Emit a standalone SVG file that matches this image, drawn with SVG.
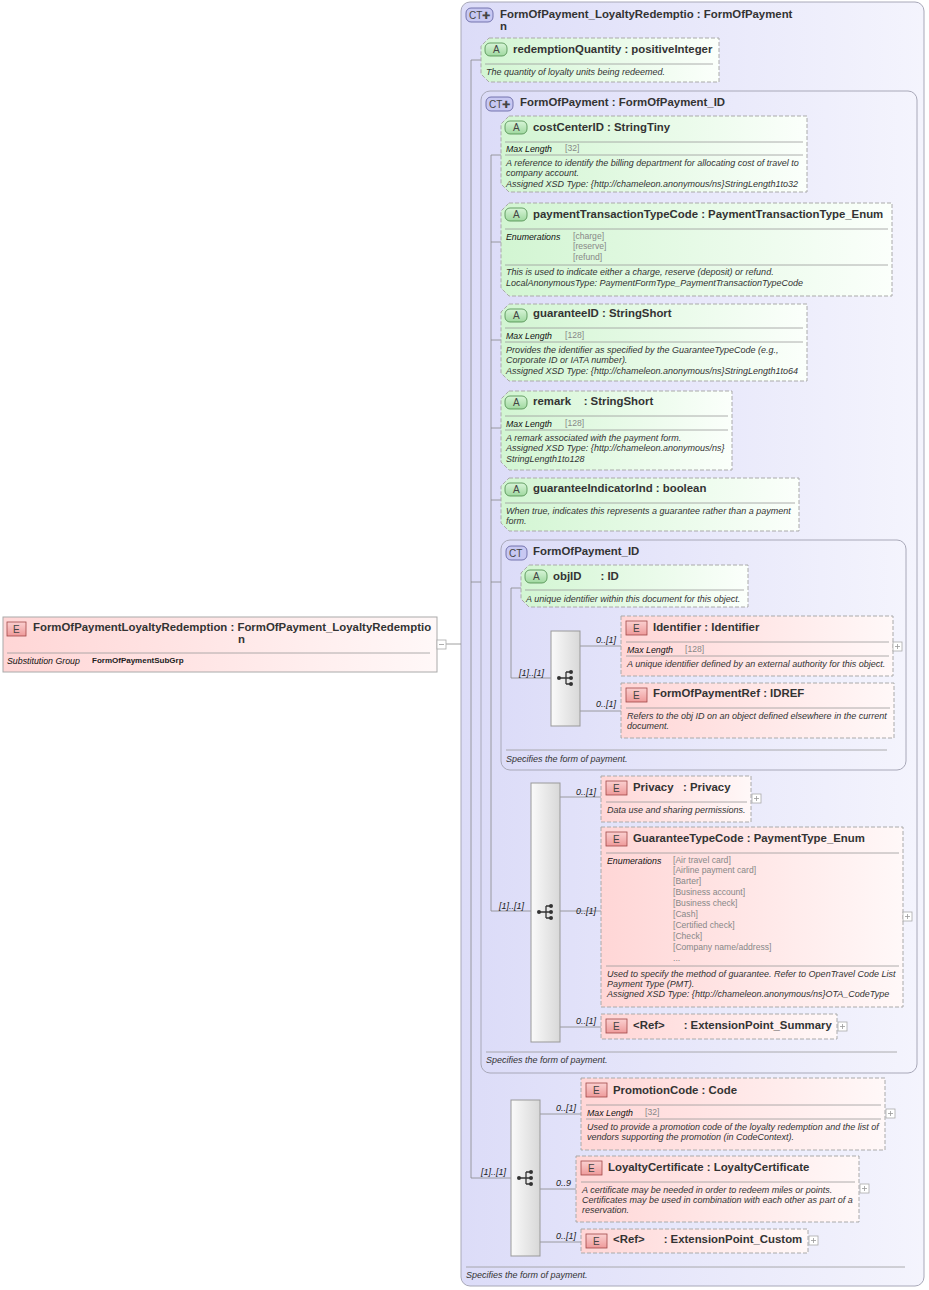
<svg xmlns="http://www.w3.org/2000/svg" width="929" height="1290" viewBox="0 0 929 1290">
<defs>
<linearGradient id="gA" x1="0" y1="0" x2="1" y2="0"><stop offset="0" stop-color="#d2f5d2"/><stop offset="1" stop-color="#fbfffb"/></linearGradient>
<linearGradient id="gE" x1="0" y1="0" x2="1" y2="0"><stop offset="0" stop-color="#ffd6d6"/><stop offset="1" stop-color="#fff8f8"/></linearGradient>
<linearGradient id="gS" x1="0" y1="0" x2="1" y2="0"><stop offset="0" stop-color="#fafafa"/><stop offset="1" stop-color="#d8d8d8"/></linearGradient>
<linearGradient id="gB" x1="0" y1="0" x2="0" y2="1"><stop offset="0" stop-color="#fbd0d0"/><stop offset="1" stop-color="#ee9a9a"/></linearGradient>
<linearGradient id="gBA" x1="0" y1="0" x2="0" y2="1"><stop offset="0" stop-color="#d8f5d8"/><stop offset="1" stop-color="#9fd89f"/></linearGradient>
<linearGradient id="gCT" x1="0" y1="0" x2="1" y2="0"><stop offset="0" stop-color="#dcdcf8"/><stop offset="1" stop-color="#f4f4fd"/></linearGradient>
<g id="seqIcon"><circle cx="-7" cy="0" r="2" fill="#333"/><path d="M-7,0H0M0,-6V6M0,-6H5M0,0H5M0,6H5" stroke="#333" stroke-width="1.3" fill="none"/><circle cx="5" cy="-6" r="2" fill="#333"/><circle cx="5" cy="0" r="2" fill="#333"/><circle cx="5" cy="6" r="2" fill="#333"/></g>
<g id="plus"><rect x="0" y="0" width="9" height="9" fill="#fff" stroke="#aaa" stroke-width="0.8"/><path d="M2,4.5H7M4.5,2V7" stroke="#999" stroke-width="0.8"/></g>
</defs>
<style>
text{font-family:"Liberation Sans",Arial,sans-serif;fill:#222;white-space:pre}
.t{font-size:11.4px;font-weight:bold;fill:#333}
.d{font-size:9px;font-style:italic;fill:#333}
.k{font-size:8.8px;font-style:italic;fill:#111}
.v{font-size:8.6px;fill:#888}
.m{font-size:9px;font-style:italic;fill:#222}
.ct{fill:url(#gCT);stroke:#a8a8b8;stroke-width:1}
.at{fill:url(#gA);stroke:#aaa;stroke-width:1;stroke-dasharray:4,2}
.el{fill:url(#gE);stroke:#aaa;stroke-width:1;stroke-dasharray:4,2}
.elS{fill:url(#gE);stroke:#aaa;stroke-width:1}
.sep{stroke:#999;stroke-width:0.8}
.seq{fill:url(#gS);stroke:#999;stroke-width:1}
.bE{fill:url(#gB);stroke:#a04848;stroke-width:0.8}
.bA{fill:url(#gBA);stroke:#4a8a4a;stroke-width:0.8}
.bC{fill:#c8c8f2;stroke:#5c5c9c;stroke-width:0.8}
.bt{font-size:10px;fill:#444}
.c{stroke:#888;stroke-width:0.8;fill:none}
</style>

<g id="outerCT">
<rect class="ct" x="461" y="2" width="463" height="1284" rx="9"/>
<rect class="bC" x="466" y="8" width="27" height="14" rx="5"/><text class="bt" x="469" y="19">CT✚</text>
<text class="t" x="500" y="18">FormOfPayment_LoyaltyRedemptio : FormOfPayment</text>
<text class="t" x="500" y="30">n</text>
<line class="sep" x1="466" y1="1267" x2="905" y2="1267"/>
<text class="d" x="466" y="1278">Specifies the form of payment.</text>
</g>

<g id="innerCT">
<rect class="ct" x="481" y="91" width="436" height="982" rx="9"/>
<rect class="bC" x="486" y="97" width="27" height="14" rx="5"/><text class="bt" x="489" y="108">CT✚</text>
<text class="t" x="520" y="106">FormOfPayment : FormOfPayment_ID</text>
<line class="sep" x1="486" y1="1052" x2="897" y2="1052"/>
<text class="d" x="486" y="1063">Specifies the form of payment.</text>
</g>

<g id="idCT">
<rect class="ct" x="501" y="540" width="405" height="230" rx="9"/>
<rect class="bC" x="506" y="546" width="21" height="14" rx="5"/><text class="bt" x="509" y="557">CT</text>
<text class="t" x="533" y="555">FormOfPayment_ID</text>
<line class="sep" x1="506" y1="750" x2="887" y2="750"/>
<text class="d" x="506" y="762">Specifies the form of payment.</text>
</g>

<g id="connectors">
<path class="c" d="M446,644H461M471,60V1178H511M471,60H481M471,582H481M491,155V911H531M491,155H501M491,242H501M491,340H501M491,428H501M491,500H501M491,582H501M511,588V678H551M511,588H521"/>
<path class="c" d="M580,646H621M580,711H621M560,797H601M560,911H601M560,1027H601M540,1114H581M540,1189H576M540,1242H581"/>
<text class="m" x="519" y="676">[1]..[1]</text>
<text class="m" x="499" y="909">[1]..[1]</text>
<text class="m" x="481" y="1175">[1]..[1]</text>
<text class="m" x="596" y="643">0..[1]</text>
<text class="m" x="596" y="707">0..[1]</text>
<text class="m" x="576" y="795">0..[1]</text>
<text class="m" x="576" y="914">0..[1]</text>
<text class="m" x="576" y="1024">0..[1]</text>
<text class="m" x="556" y="1111">0..[1]</text>
<text class="m" x="556" y="1186">0..9</text>
<text class="m" x="556" y="1239">0..[1]</text>
</g>

<g id="root">
<rect class="elS" x="3" y="617" width="434" height="55"/>
<rect class="bE" x="7" y="622" width="19" height="14"/><text class="bt" x="13" y="633">E</text>
<text class="t" x="33" y="631">FormOfPaymentLoyaltyRedemption : FormOfPayment_LoyaltyRedemptio</text>
<text class="t" x="238" y="643">n</text>
<line class="sep" x1="7" y1="653" x2="430" y2="653"/>
<text class="k" x="7" y="664">Substitution Group</text>
<text x="92" y="663" style="font-size:8px;font-weight:bold">FormOfPaymentSubGrp</text>
<rect x="437" y="640" width="9" height="9" fill="#fff" stroke="#aaa" stroke-width="0.8"/><path d="M439,644.5H444" stroke="#999" stroke-width="0.8"/>
</g>

<g id="redemptionQuantity">
<path class="at" d="M489,38H719V82H489L481,74V46Z"/>
<rect class="bA" x="485" y="43" width="22" height="13" rx="5"/><text class="bt" x="493" y="53">A</text>
<text class="t" x="513" y="53">redemptionQuantity : positiveInteger</text>
<line class="sep" x1="485" y1="64" x2="713" y2="64"/>
<text class="d" x="486" y="75">The quantity of loyalty units being redeemed.</text>
</g>

<g id="costCenterID">
<path class="at" d="M509,116H807V192H509L501,184V124Z"/>
<rect class="bA" x="505" y="121" width="22" height="13" rx="5"/><text class="bt" x="513" y="131">A</text>
<text class="t" x="533" y="131">costCenterID : StringTiny</text>
<line class="sep" x1="505" y1="142" x2="803" y2="142"/>
<text class="k" x="506" y="152">Max Length</text><text class="v" x="565" y="151">[32]</text>
<line class="sep" x1="505" y1="155" x2="803" y2="155"/>
<text class="d" x="506" y="166">A reference to identify the billing department for allocating cost of travel to</text>
<text class="d" x="506" y="176">company account.</text>
<text class="d" x="506" y="187">Assigned XSD Type: {http://chameleon.anonymous/ns}StringLength1to32</text>
</g>

<g id="paymentTransactionTypeCode">
<path class="at" d="M509,203H892V296H509L501,288V211Z"/>
<rect class="bA" x="505" y="208" width="22" height="13" rx="5"/><text class="bt" x="513" y="218">A</text>
<text class="t" x="533" y="218">paymentTransactionTypeCode : PaymentTransactionType_Enum</text>
<line class="sep" x1="505" y1="229" x2="888" y2="229"/>
<text class="k" x="506" y="240">Enumerations</text>
<text class="v" x="573" y="239">[charge]</text><text class="v" x="573" y="249">[reserve]</text><text class="v" x="573" y="260">[refund]</text>
<line class="sep" x1="505" y1="265" x2="888" y2="265"/>
<text class="d" x="506" y="275">This is used to indicate either a charge, reserve (deposit) or refund.</text>
<text class="d" x="506" y="286">LocalAnonymousType: PaymentFormType_PaymentTransactionTypeCode</text>
</g>

<g id="guaranteeID">
<path class="at" d="M509,304H807V381H509L501,373V312Z"/>
<rect class="bA" x="505" y="309" width="22" height="13" rx="5"/><text class="bt" x="513" y="319">A</text>
<text class="t" x="533" y="317">guaranteeID : StringShort</text>
<line class="sep" x1="505" y1="328" x2="803" y2="328"/>
<text class="k" x="506" y="339">Max Length</text><text class="v" x="565" y="338">[128]</text>
<line class="sep" x1="505" y1="342" x2="803" y2="342"/>
<text class="d" x="506" y="353">Provides the identifier as specified by the GuaranteeTypeCode (e.g.,</text>
<text class="d" x="506" y="363">Corporate ID or IATA number).</text>
<text class="d" x="506" y="374">Assigned XSD Type: {http://chameleon.anonymous/ns}StringLength1to64</text>
</g>

<g id="remark">
<path class="at" d="M509,391H732V470H509L501,462V399Z"/>
<rect class="bA" x="505" y="396" width="22" height="13" rx="5"/><text class="bt" x="513" y="406">A</text>
<text class="t" x="533" y="405">remark    : StringShort</text>
<line class="sep" x1="505" y1="416" x2="728" y2="416"/>
<text class="k" x="506" y="427">Max Length</text><text class="v" x="565" y="426">[128]</text>
<line class="sep" x1="505" y1="430" x2="728" y2="430"/>
<text class="d" x="506" y="441">A remark associated with the payment form.</text>
<text class="d" x="506" y="451">Assigned XSD Type: {http://chameleon.anonymous/ns}</text>
<text class="d" x="506" y="462">StringLength1to128</text>
</g>

<g id="guaranteeIndicatorInd">
<path class="at" d="M509,478H799V531H509L501,523V486Z"/>
<rect class="bA" x="505" y="483" width="22" height="13" rx="5"/><text class="bt" x="513" y="493">A</text>
<text class="t" x="533" y="492">guaranteeIndicatorInd : boolean</text>
<line class="sep" x1="505" y1="503" x2="795" y2="503"/>
<text class="d" x="506" y="514">When true, indicates this represents a guarantee rather than a payment</text>
<text class="d" x="506" y="524">form.</text>
</g>

<g id="objID">
<path class="at" d="M529,565H748V607H529L521,599V573Z"/>
<rect class="bA" x="525" y="570" width="22" height="13" rx="5"/><text class="bt" x="533" y="580">A</text>
<text class="t" x="553" y="580">objID      : ID</text>
<line class="sep" x1="525" y1="590" x2="744" y2="590"/>
<text class="d" x="526" y="602">A unique identifier within this document for this object.</text>
</g>

<g id="seqID">
<rect class="seq" x="551" y="631" width="29" height="95"/>
<use href="#seqIcon" x="566" y="678"/>
</g>

<g id="Identifier">
<rect class="el" x="621" y="616" width="272" height="60"/>
<rect class="bE" x="626" y="621" width="21" height="14"/><text class="bt" x="633" y="632">E</text>
<text class="t" x="653" y="631">Identifier : Identifier</text>
<line class="sep" x1="626" y1="642" x2="889" y2="642"/>
<text class="k" x="627" y="653">Max Length</text><text class="v" x="685" y="652">[128]</text>
<line class="sep" x1="626" y1="656" x2="889" y2="656"/>
<text class="d" x="627" y="667">A unique identifier defined by an external authority for this object.</text>
<use href="#plus" x="893" y="642"/>
</g>

<g id="FormOfPaymentRef">
<rect class="el" x="621" y="683" width="273" height="55"/>
<rect class="bE" x="626" y="688" width="21" height="14"/><text class="bt" x="633" y="699">E</text>
<text class="t" x="653" y="697">FormOfPaymentRef : IDREF</text>
<line class="sep" x1="626" y1="708" x2="890" y2="708"/>
<text class="d" x="627" y="719">Refers to the obj ID on an object defined elsewhere in the current</text>
<text class="d" x="627" y="729">document.</text>
</g>

<g id="seqFOP">
<rect class="seq" x="531" y="783" width="29" height="259"/>
<use href="#seqIcon" x="546" y="912"/>
</g>

<g id="Privacy">
<rect class="el" x="601" y="776" width="150" height="46"/>
<rect class="bE" x="606" y="781" width="21" height="14"/><text class="bt" x="613" y="792">E</text>
<text class="t" x="633" y="791">Privacy   : Privacy</text>
<line class="sep" x1="606" y1="802" x2="747" y2="802"/>
<text class="d" x="607" y="813">Data use and sharing permissions.</text>
<use href="#plus" x="752" y="794"/>
</g>

<g id="GuaranteeTypeCode">
<rect class="el" x="601" y="827" width="302" height="180"/>
<rect class="bE" x="606" y="832" width="21" height="14"/><text class="bt" x="613" y="843">E</text>
<text class="t" x="633" y="842">GuaranteeTypeCode : PaymentType_Enum</text>
<line class="sep" x1="606" y1="853" x2="899" y2="853"/>
<text class="k" x="607" y="864">Enumerations</text>
<text class="v" x="673" y="863">[Air travel card]</text>
<text class="v" x="673" y="873">[Airline payment card]</text>
<text class="v" x="673" y="884">[Barter]</text>
<text class="v" x="673" y="895">[Business account]</text>
<text class="v" x="673" y="906">[Business check]</text>
<text class="v" x="673" y="917">[Cash]</text>
<text class="v" x="673" y="928">[Certified check]</text>
<text class="v" x="673" y="939">[Check]</text>
<text class="v" x="673" y="950">[Company name/address]</text>
<text class="v" x="673" y="961">...</text>
<line class="sep" x1="606" y1="966" x2="899" y2="966"/>
<text class="d" x="607" y="977">Used to specify the method of guarantee. Refer to OpenTravel Code List</text>
<text class="d" x="607" y="987">Payment Type (PMT).</text>
<text class="d" x="607" y="997">Assigned XSD Type: {http://chameleon.anonymous/ns}OTA_CodeType</text>
<use href="#plus" x="903" y="912"/>
</g>

<g id="ExtensionPoint_Summary">
<rect class="el" x="601" y="1014" width="236" height="25"/>
<rect class="bE" x="606" y="1019" width="21" height="14"/><text class="bt" x="613" y="1030">E</text>
<text class="t" x="633" y="1029">&lt;Ref&gt;      : ExtensionPoint_Summary</text>
<use href="#plus" x="838" y="1022"/>
</g>

<g id="seqOuter">
<rect class="seq" x="511" y="1100" width="29" height="156"/>
<use href="#seqIcon" x="526" y="1178"/>
</g>

<g id="PromotionCode">
<rect class="el" x="581" y="1078" width="304" height="72"/>
<rect class="bE" x="586" y="1083" width="21" height="14"/><text class="bt" x="593" y="1094">E</text>
<text class="t" x="613" y="1094">PromotionCode : Code</text>
<line class="sep" x1="586" y1="1105" x2="881" y2="1105"/>
<text class="k" x="587" y="1116">Max Length</text><text class="v" x="645" y="1115">[32]</text>
<line class="sep" x1="586" y1="1119" x2="881" y2="1119"/>
<text class="d" x="587" y="1130">Used to provide a promotion code of the loyalty redemption and the list of</text>
<text class="d" x="587" y="1140">vendors supporting the promotion (in CodeContext).</text>
<use href="#plus" x="886" y="1109"/>
</g>

<g id="LoyaltyCertificate">
<rect class="el" x="576" y="1156" width="283" height="66"/>
<rect class="bE" x="581" y="1161" width="21" height="14"/><text class="bt" x="588" y="1172">E</text>
<text class="t" x="608" y="1171">LoyaltyCertificate : LoyaltyCertificate</text>
<line class="sep" x1="581" y1="1182" x2="855" y2="1182"/>
<text class="d" x="582" y="1193">A certificate may be needed in order to redeem miles or points.</text>
<text class="d" x="582" y="1203">Certificates may be used in combination with each other as part of a</text>
<text class="d" x="582" y="1213">reservation.</text>
<use href="#plus" x="860" y="1184"/>
</g>

<g id="ExtensionPoint_Custom">
<rect class="el" x="581" y="1229" width="227" height="24"/>
<rect class="bE" x="586" y="1234" width="21" height="14"/><text class="bt" x="593" y="1245">E</text>
<text class="t" x="613" y="1243">&lt;Ref&gt;      : ExtensionPoint_Custom</text>
<use href="#plus" x="809" y="1236"/>
</g>
</svg>
